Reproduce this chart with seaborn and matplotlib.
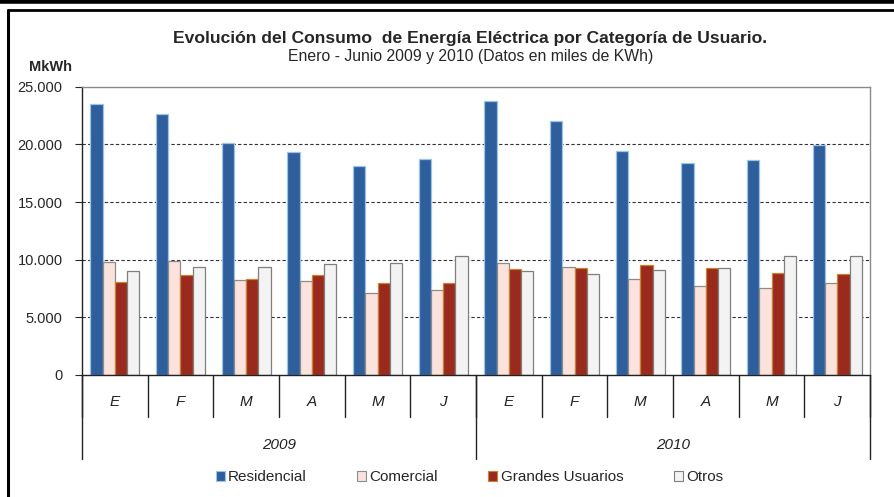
import numpy as np
import pandas as pd
import seaborn as sns
import matplotlib.pyplot as plt
from matplotlib.lines import Line2D
from matplotlib.patches import Patch
from matplotlib.ticker import FuncFormatter

# datos (miles de kWh)
meses = ['E', 'F', 'M', 'A', 'M', 'J']
anios = ['2009', '2010']
categorias = ['Residencial', 'Comercial', 'Grandes Usuarios', 'Otros']

residencial_2009 = [23500, 22600, 20100, 19300, 18150, 18700]
comercial_2009 = [9800, 9850, 8250, 8150, 7150, 7350]
grandes_2009 = [8100, 8650, 8300, 8650, 7950, 7950]
otros_2009 = [9000, 9400, 9400, 9650, 9750, 10350]

residencial_2010 = [23750, 22050, 19400, 18400, 18600, 19950]
comercial_2010 = [9700, 9400, 8300, 7700, 7500, 7950]
grandes_2010 = [9200, 9300, 9550, 9300, 8850, 8750]
otros_2010 = [9000, 8750, 9100, 9300, 10350, 10350]

y_ticks = [0, 5000, 10000, 15000, 20000, 25000]

colores = ['#2E5E9C', '#FBE2DC', '#9A2A1E', '#F3F3F3']
bordes = ['#9DC3E6', '#8C8C8C', '#C8842F', '#7F7F7F']

series = {
    '2009': [residencial_2009, comercial_2009, grandes_2009, otros_2009],
    '2010': [residencial_2010, comercial_2010, grandes_2010, otros_2010],
}

rows = []
orden = []
for anio in anios:
    for i, mes in enumerate(meses):
        clave = '%s-%d' % (anio, i)
        orden.append(clave)
        for c, cat in enumerate(categorias):
            rows.append({'periodo': clave, 'categoria': cat, 'valor': series[anio][c][i]})
df = pd.DataFrame(rows)

plt.switch_backend('agg')
sns.set_style('white')
plt.rcParams['font.family'] = ['Liberation Sans', 'DejaVu Sans']

fig = plt.figure(figsize=(8.94, 4.97), dpi=100)
ax = fig.add_axes([0.0917, 0.2455, 0.8815, 0.5801])

sns.barplot(data=df, x='periodo', y='valor', hue='categoria', order=orden,
            hue_order=categorias, palette=colores, saturation=1, width=0.75,
            legend=False, ax=ax)
for cont, borde in zip(ax.containers, bordes):
    for bar in cont:
        bar.set_edgecolor(borde)
        bar.set_linewidth(0.9)

ax.set_xlim(-0.5, len(orden) - 0.5)
ax.set_ylim(0, 25000)
ax.set_yticks(y_ticks)
ax.yaxis.set_major_formatter(FuncFormatter(lambda v, p: '{:,.0f}'.format(v).replace(',', '.')))
ax.tick_params(axis='y', labelsize=10.5, length=5, width=0.8, direction='out', left=True, pad=9)
ax.set_xticks([])
ax.set_xlabel('')
ax.set_ylabel('')

for s in ['top', 'right']:
    ax.spines[s].set_color('#8A8A8A')
    ax.spines[s].set_linewidth(1.0)
for s in ['left', 'bottom']:
    ax.spines[s].set_color('#222222')
    ax.spines[s].set_linewidth(1.0)

for v in y_ticks[1:-1]:
    ax.axhline(v, color='#333333', linestyle=(0, (3, 2)), linewidth=0.8, zorder=0)

# eje de categorias jerarquico
xt = ax.get_xaxis_transform()
n = len(orden)
for i in range(n + 1):
    ax.plot([i - 0.5, i - 0.5], [0, -0.146], transform=xt, color='#222222', lw=1.0, clip_on=False)
for i in [0, 6, 12]:
    ax.plot([i - 0.5, i - 0.5], [0, -0.291], transform=xt, color='#222222', lw=1.0, clip_on=False)
for i, clave in enumerate(orden):
    ax.text(i, -0.094, meses[i % 6], transform=xt, ha='center', va='center',
            fontsize=11, style='italic', color='#222222')
for k, anio in enumerate(anios):
    ax.text(k * 6 + 2.5, -0.243, anio, transform=xt, ha='center', va='center',
            fontsize=11, style='italic', color='#222222')

# titulos
fig.text(0.526, 0.923, 'Evolución del Consumo  de Energía Eléctrica por Categoría de Usuario.',
         ha='center', va='center', fontsize=12.6, fontweight='bold')
fig.text(0.526, 0.887, 'Enero - Junio 2009 y 2010 (Datos en miles de KWh)',
         ha='center', va='center', fontsize=11.3)
fig.text(0.056, 0.865, 'MkWh', ha='center', va='center', fontsize=10.5, fontweight='bold')

handles = [Patch(facecolor=c, edgecolor=b, linewidth=0.8) for c, b in zip(colores, bordes)]
fig.legend(handles, categorias, loc='center', bbox_to_anchor=(0.525, 0.04), ncol=4,
           frameon=False, fontsize=11, handlelength=0.6, handleheight=0.6,
           handletextpad=0.2, columnspacing=3.3)

# marco de la imagen
fig.add_artist(Line2D([0, 1], [0.997, 0.997], transform=fig.transFigure, color='black', lw=4))
fig.add_artist(Line2D([0.0095, 1], [0.979, 0.979], transform=fig.transFigure, color='black', lw=2))
fig.add_artist(Line2D([0.0095, 0.0095], [0, 0.979], transform=fig.transFigure, color='black', lw=2.2))

fig.savefig('out.png', dpi=100)
